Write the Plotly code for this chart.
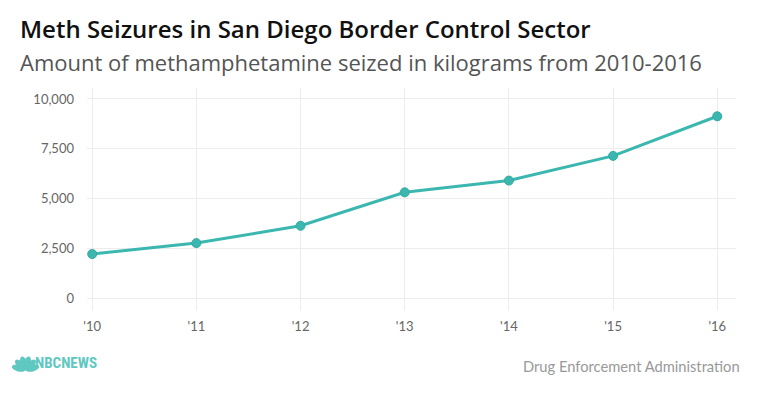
import math
import plotly.graph_objects as go

# ---- data ----
years = [2010, 2011, 2012, 2013, 2014, 2015, 2016]
year_labels = ["'10", "'11", "'12", "'13", "'14", "'15", "'16"]
seized_kg = [2210, 2760, 3630, 5310, 5900, 7140, 9130]
y_ticks = [0, 2500, 5000, 7500, 10000]
y_tick_labels = ["0", "2,500", "5,000", "7,500", "10,000"]

title = "Meth Seizures in San Diego Border Control Sector"
subtitle = "Amount of methamphetamine seized in kilograms from 2010-2016"
source = "Drug Enforcement Administration"

# page body has an 8px margin; size figure to fit the window
OFF = 8
W, H = 760 - OFF, 399 - OFF
L, T = 87 - OFF, 88 - OFF
PW, PH = 649, 222
R, B = W - L - PW, H - T - PH

def px(x):
    return (x - OFF - L) / PW

def py(y):
    return (T + PH - (y - OFF)) / PH

TEAL = "#3bb7b0"
FONT = "Lato, 'Open Sans', sans-serif"
HFONT = "'Open Sans', Lato, sans-serif"

fig = go.Figure()
fig.add_trace(go.Scatter(
    x=years, y=seized_kg, mode="lines+markers",
    line=dict(color=TEAL, width=3),
    marker=dict(color=TEAL, size=9, line=dict(color="#35aaa3", width=1)),
    hoverinfo="x+y", showlegend=False,
))

annotations = [
    dict(text=title, x=px(18), y=py(28), xref="paper", yref="paper",
         xanchor="left", yanchor="middle", showarrow=False,
         font=dict(family=HFONT, size=24, color="#111", weight=600)),
    dict(text=subtitle, x=px(18), y=py(62), xref="paper", yref="paper",
         xanchor="left", yanchor="middle", showarrow=False,
         font=dict(family=HFONT, size=22, color="#555")),
    dict(text=source, x=px(742), y=py(366), xref="paper", yref="paper",
         xanchor="right", yanchor="middle", showarrow=False,
         font=dict(family=FONT, size=14.7, color="#999")),
    dict(text="<b>NBCNEWS</b>", x=px(33), y=py(363), xref="paper", yref="paper",
         xanchor="left", yanchor="middle", showarrow=False,
         font=dict(family="'Liberation Sans Narrow', 'Roboto Condensed', sans-serif",
                   size=15, color="#5fc8c1")),
]

# peacock logo (decorative shapes)
shapes = []
cx, cy = 25.5, 370.0
angles = [-75, -45, -15, 15, 45, 75]
for a in angles:
    rad = math.radians(a)
    L_f, w_f = 14.0, 3.3
    mx = cx + math.sin(rad) * L_f / 2
    my = cy - math.cos(rad) * L_f / 2
    pts = []
    for k in range(24):
        t = 2 * math.pi * k / 24
        u = math.cos(t) * L_f / 2
        v = math.sin(t) * w_f
        ex = mx + u * math.sin(rad) + v * math.cos(rad)
        ey = my - u * math.cos(rad) + v * math.sin(rad)
        pts.append((px(ex), py(ey)))
    path = "M " + " L ".join(f"{p[0]:.5f},{p[1]:.5f}" for p in pts) + " Z"
    shapes.append(dict(type="path", path=path, xref="paper", yref="paper",
                       fillcolor="#5fc8c1", line=dict(width=0)))

fig.update_layout(
    width=W, height=H,
    margin=dict(l=L, r=R, t=T, b=B, pad=0),
    paper_bgcolor="white", plot_bgcolor="white",
    font=dict(family=FONT, color="#666"),
    xaxis=dict(range=[2009.95, 2016.18], tickvals=years, ticktext=year_labels,
               showgrid=True, gridcolor="#ececec", gridwidth=1,
               zeroline=False, showline=False, ticks="", ticklabelstandoff=7,
               tickfont=dict(size=13, color="#666"), fixedrange=True),
    yaxis=dict(range=[-600, 10550], tickvals=y_ticks, ticktext=y_tick_labels,
               showgrid=True, gridcolor="#ececec", gridwidth=1,
               zeroline=False, showline=False, ticks="", ticklabelstandoff=12,
               tickfont=dict(size=13, color="#666"), fixedrange=True),
    annotations=annotations,
    shapes=shapes,
)

fig.write_html("out.html")
